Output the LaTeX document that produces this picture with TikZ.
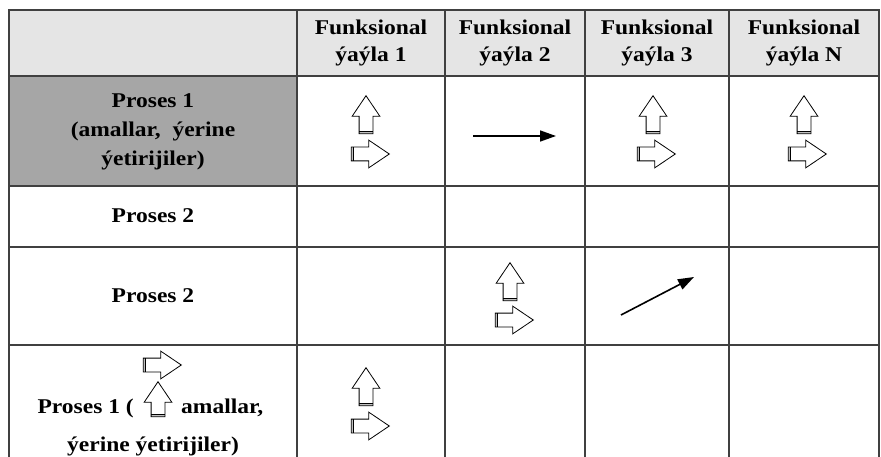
\documentclass[tikz,border=0pt]{standalone}
\usepackage{fontspec}
\setmainfont{Liberation Serif}[FakeStretch=1.12]
\usetikzlibrary{positioning, shapes.arrows, arrows.meta}

\tikzset{
  tabline/.style={draw=black!75, line width=1.2pt},
  lbl/.style={font=\bfseries\fontsize{21}{27}\selectfont, align=center, inner sep=0pt},
  blockarr/.style={single arrow, draw, line width=0.8pt, inner sep=6.5pt, minimum height=38pt,
    single arrow head extend=7pt, single arrow tip angle=68, anchor=tip},
  uparr/.style={blockarr, shape border rotate=90,
    path picture={\fill[black!25] (path picture bounding box.south west) rectangle ([yshift=2.5pt]path picture bounding box.south east);
      \draw[line width=0.6pt] ([yshift=2.5pt]path picture bounding box.south west) -- ([yshift=2.5pt]path picture bounding box.south east);}},
  rtarr/.style={blockarr,
    path picture={\fill[black!25] (path picture bounding box.south west) rectangle ([xshift=2.5pt]path picture bounding box.north west);
      \draw[line width=0.6pt] ([xshift=2.5pt]path picture bounding box.south west) -- ([xshift=2.5pt]path picture bounding box.north west);}},
  flow/.style={line width=1.6pt, -{Triangle[length=16pt, width=11pt]}}
}

\begin{document}
\begin{tikzpicture}[x=1pt, y=1pt]
	\useasboundingbox (0,0) rectangle (881,-457);
	\clip (0,0) rectangle (881,-457);

	% Table background and rules.
	\fill[black!10] (9,-10) rectangle (879,-76);
	\fill[black!35] (9,-76) rectangle (297,-186);
	\draw[tabline] (9,-10) rectangle (879,-490);
	\draw[tabline] (9,-76) -- (879,-76) (9,-186) -- (879,-186) (9,-247) -- (879,-247) (9,-345) -- (879,-345);
	\draw[tabline] (297,-10) -- (297,-490) (445,-10) -- (445,-490) (585,-10) -- (585,-490) (729,-10) -- (729,-490);

	% Header and row labels.
	\node[lbl] (h1) at (371,-43) {Funksional\\ýaýla 1};
	\node[lbl] (h2) at (515,-43) {Funksional\\ýaýla 2};
	\node[lbl] (h3) at (657,-43) {Funksional\\ýaýla 3};
	\node[lbl] (h4) at (804,-43) {Funksional\\ýaýla N};
	\node[lbl, font=\bfseries\fontsize{21}{29}\selectfont] (p1) at (153,-132) {Proses 1\\(amallar,~ ýerine\\ýetirijiler)};
	\node[lbl] (p2) at (153,-216) {Proses 2};
	\node[lbl] (p3) at (153,-296) {Proses 2};
	\node[lbl, anchor=base east] (p4a) at (134,-413) {Proses 1 (};
	\node[lbl, anchor=base west] (p4b) at (181,-413) {amallar,};
	\node[lbl, anchor=base] (p4c) at (153,-451) {ýerine ýetirijiler)};
	\node[rtarr] (p4r) at (182,-365) {};
	\node[uparr, minimum height=35pt] (p4u) at (158,-381) {};

	% Block arrows in the cells.
	\node[uparr] (u11) at (366,-95) {};
	\node[rtarr] (r11) at (390,-154) {};
	\node[uparr] (u13) at (653,-95) {};
	\node[rtarr] (r13) at (676,-154) {};
	\node[uparr] (u14) at (804,-95) {};
	\node[rtarr] (r14) at (827,-154) {};
	\node[uparr] (u32) at (510,-262) {};
	\node[rtarr] (r32) at (534,-320) {};
	\node[uparr] (u41) at (366,-367) {};
	\node[rtarr] (r41) at (390,-426) {};

	% Plain arrows.
	\coordinate (f1s) at (473,-136);
	\coordinate (f1e) at (556,-136);
	\coordinate (f3s) at (621,-315);
	\coordinate (f3e) at (694,-277);
	\draw[flow] (f1s) -- (f1e);
	\draw[flow] (f3s) -- (f3e);
\end{tikzpicture}
\end{document}
